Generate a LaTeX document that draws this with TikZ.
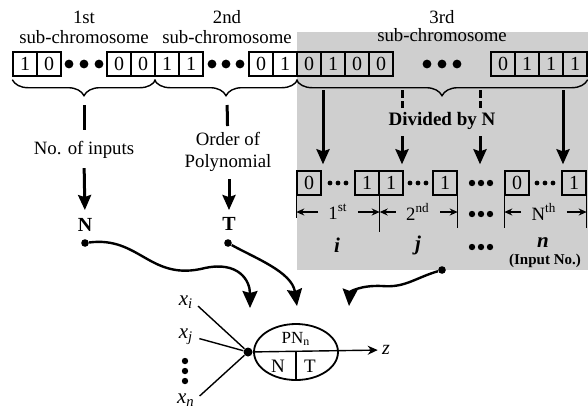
\documentclass[tikz,border=0pt]{standalone}
\usepackage{fontspec}
\setmainfont{Liberation Serif}
\usetikzlibrary{arrows.meta,positioning,calc,shapes.geometric,decorations.pathreplacing}
\usepackage{xcolor}
\definecolor{Shade}{HTML}{CFCFCF}
\tikzset{
 txt/.style={inner sep=0pt, align=center, font=\fontsize{9.4}{11}\selectfont},
 boldtxt/.style={inner sep=0pt, align=center, font=\fontsize{10}{11.5}\selectfont\bfseries},
 bit/.style={draw, line width=0.7pt, minimum width=12pt, minimum height=12pt, inner sep=0pt, font=\fontsize{10}{10}\selectfont},
 bigdot/.style={circle, fill, inner sep=0pt, minimum size=4.4pt},
 smalldot/.style={circle, fill, inner sep=0pt, minimum size=2.4pt},
 middot/.style={circle, fill, inner sep=0pt, minimum size=3.2pt},
 brace/.style={decorate, decoration={brace, mirror, amplitude=8pt}, line width=0.7pt},
 bar/.style={line width=1.5pt},
 arrow/.style={-{Stealth[length=7.5pt,width=6.5pt,inset=1pt]}, line width=1.5pt},
 curvearrow/.style={-{Stealth[length=8.5pt,width=7.5pt,inset=1pt]}, line width=1.2pt},
 dimarrow/.style={-{Stealth[length=4pt,width=3.5pt]}, line width=0.8pt},
 thinline/.style={line width=0.7pt}
}
\begin{document}
\begin{tikzpicture}[x=0.5pt,y=-0.5pt]
\useasboundingbox (0,0) rectangle (588,414);
\fill[Shade] (297,32) rectangle (588,270);

\node[txt] (h1a) at (84,17) {1st};
\node[txt] (h1b) at (84,37) {sub-chromosome};
\node[txt] (h2a) at (227,17) {2nd};
\node[txt] (h2b) at (227,37) {sub-chromosome};
\node[txt] (h3a) at (442,17) {3rd};
\node[txt] (h3b) at (442,35) {sub-chromosome};

\node[bit] (a1) at (25,64) {1};
\node[bit] (a2) at (49,64) {0};
\node[bigdot] (ad1) at (69,64) {};
\node[bigdot] (ad2) at (84,64) {};
\node[bigdot] (ad3) at (99,64) {};
\node[bit] (a3) at (119,64) {0};
\node[bit] (a4) at (143,64) {0};
\node[bit] (c1) at (167,64) {1};
\node[bit] (c2) at (191,64) {1};
\node[bigdot] (cd1) at (212,64) {};
\node[bigdot] (cd2) at (226,64) {};
\node[bigdot] (cd3) at (240,64) {};
\node[bit] (c3) at (261,64) {0};
\node[bit] (c4) at (285,64) {1};
\node[bit] (e1) at (309,64) {0};
\node[bit] (e2) at (333,64) {1};
\node[bit] (e3) at (357,64) {0};
\node[bit] (e4) at (381,64) {0};
\node[bigdot] (ed1) at (427,64) {};
\node[bigdot] (ed2) at (442,64) {};
\node[bigdot] (ed3) at (457,64) {};
\node[bit] (e5) at (503,64) {0};
\node[bit] (e6) at (527,64) {1};
\node[bit] (e7) at (551,64) {1};
\node[bit] (e8) at (575,64) {1};

\draw[brace] ([yshift=-1.5pt]a1.south west) -- ([yshift=-1.5pt]a4.south east);
\draw[brace] ([yshift=-1.5pt]c1.south west) -- ([yshift=-1.5pt]c4.south east);
\draw[brace] ([yshift=-1.5pt]e1.south west) -- ([yshift=-1.5pt]e8.south east);
\coordinate (k1) at (84,98);
\coordinate (k2) at (227,98);

\node[txt] (ni) at (84,150) {No. of inputs};
\node[txt] (op) at (228,152) {Order of\\Polynomial};
\node[boldtxt] (nN) at (85,225) {N};
\node[boldtxt] (nT) at (229,224) {T};
\draw[bar, shorten <=3.5pt, shorten >=10pt] (k1) -- (ni.center);
\draw[bar, shorten <=3.5pt, shorten >=13pt] (k2) -- (op.center);
\draw[arrow, shorten <=4.5pt, shorten >=4pt] (ni.south) -- (nN.north);
\draw[arrow, shorten <=3.5pt, shorten >=3.5pt] (op.south -| nT) -- (nT.north);
\node[middot, minimum size=3.8pt] (pN) at (85,243) {};
\node[middot, minimum size=3.8pt] (pT) at (228,243) {};

\node[bit] (r0) at (309,183) {0};
\node[smalldot] (rd1) at (330,183) {};
\node[smalldot] (rd2) at (338,183) {};
\node[smalldot] (rd3) at (346,183) {};
\node[bit] (r1) at (367,183) {1};
\node[bit] (r2) at (391,183) {1};
\node[smalldot] (rd4) at (410,183) {};
\node[smalldot] (rd5) at (418,183) {};
\node[smalldot] (rd6) at (426,183) {};
\node[bit] (r3) at (445,183) {1};
\node[middot] (rq1) at (472,183) {};
\node[middot] (rq2) at (481,183) {};
\node[middot] (rq3) at (490,183) {};
\node[bit] (r4) at (517,183) {0};
\node[smalldot] (rd7) at (537,183) {};
\node[smalldot] (rd8) at (545,183) {};
\node[smalldot] (rd9) at (553,183) {};
\node[bit] (r5) at (574,183) {1};

\coordinate (g1) at (323,90);
\coordinate (g2) at (402,90);
\coordinate (g3) at (480,90);
\coordinate (g4) at (563,90);
\node[boldtxt, font=\fontsize{9.5}{11}\selectfont\bfseries] (dv) at (442,121) {Divided by N};
\draw[arrow, shorten >=3pt] (g1) -- (g1 |- r0.north);
\draw[arrow, shorten >=3pt] (g4) -- (g4 |- r0.north);
\draw[bar, dash pattern=on 4pt off 1.5pt] (g2) -- ++(0,18);
\draw[bar, dash pattern=on 4pt off 1.5pt] (g3) -- ++(0,18);
\draw[arrow, shorten <=3pt, shorten >=3pt] (g2 |- dv.south) -- (g2 |- r0.north);
\draw[arrow, shorten <=3pt, shorten >=3pt] (g3 |- dv.south) -- (g3 |- r0.north);

\draw[thinline] (r0.south west) -- ++(0,22);
\draw[thinline] (r1.south east) -- ++(0,36);
\draw[thinline] (r3.south east) -- ++(0,32);
\draw[thinline] (r4.south west) -- ++(0,32);
\draw[thinline] (r5.south east) -- ++(0,32);
\node[txt] (m1) at (338,212) {1\textsuperscript{st}};
\node[txt] (m2) at (418,212) {2\textsuperscript{nd}};
\node[middot] (mq1) at (472,214) {};
\node[middot] (mq2) at (481,214) {};
\node[middot] (mq3) at (490,214) {};
\node[txt] (m4) at (544,212) {N\textsuperscript{th}};
\draw[dimarrow, shorten <=5pt] (m1.west) -- (m1.west -| r0.west);
\draw[dimarrow, shorten <=5pt] (m1.east) -- (m1.east -| r1.east);
\draw[dimarrow, shorten <=5pt] (m2.west) -- (m2.west -| r1.east);
\draw[dimarrow, shorten <=5pt] (m2.east) -- (m2.east -| r3.east);
\draw[dimarrow, shorten <=5pt] (m4.west) -- (m4.west -| r4.west);
\draw[dimarrow, shorten <=5pt] (m4.east) -- (m4.east -| r5.east);

\node[boldtxt, font=\fontsize{10.5}{12}\selectfont\bfseries\itshape] (vi) at (337,245) {i};
\node[boldtxt, font=\fontsize{10.5}{12}\selectfont\bfseries\itshape] (vj) at (418,245) {j};
\node[middot] (vq1) at (472,247) {};
\node[middot] (vq2) at (481,247) {};
\node[middot] (vq3) at (490,247) {};
\node[boldtxt, font=\fontsize{10.5}{12}\selectfont\bfseries\itshape] (vn) at (543,243) {n};
\node[boldtxt, font=\fontsize{7.5}{9}\selectfont\bfseries] (vin) at (545,261) {(Input No.)};
\node[middot, minimum size=3.8pt] (pI) at (442,270) {};

\node[circle, fill, inner sep=0pt, minimum size=4.5pt] (jn) at (248,352) {};
\node[draw, ellipse, line width=0.9pt, minimum width=42pt, minimum height=28pt, inner sep=0pt] (pn) at (296,352) {};
\node[txt, font=\fontsize{8.5}{10}\selectfont] (pnl) at (296,339) {PN\textsubscript{n}};
\node[txt, font=\fontsize{9.5}{11}\selectfont] (pnN) at (278,366) {N};
\node[txt, font=\fontsize{9.5}{11}\selectfont] (pnT) at (310,366) {T};
\draw[thinline] (pn.center) -- (pn.south);
\node[txt, font=\fontsize{10}{11.5}\selectfont\itshape] (zz) at (386,350) {z};
\draw[thinline, -{Stealth[length=5pt,width=4.5pt]}, shorten >=2pt] (jn) -- (zz.west);

\node[txt, font=\fontsize{10.5}{12}\selectfont\itshape] (xi) at (186,302) {x\textsubscript{i}};
\node[txt, font=\fontsize{10.5}{12}\selectfont\itshape] (xj) at (186,337) {x\textsubscript{j}};
\node[txt, font=\fontsize{10.5}{12}\selectfont\itshape] (xn) at (186,400) {x\textsubscript{n}};
\node[middot] (xd1) at (185,361) {};
\node[middot] (xd2) at (185,371) {};
\node[middot] (xd3) at (185,381) {};
\draw[thinline, shorten <=3pt] (xi.east) -- (jn);
\draw[thinline, shorten <=3pt] (xj.east) -- (jn);
\draw[thinline, shorten <=3pt] (xn.east) -- (jn);

\coordinate (tN) at (250,308);
\coordinate (tT) at (297,306);
\coordinate (tI) at (349,306);
\draw[curvearrow] (pN) .. controls (140,236) and (150,282) .. (205,268) .. controls (238,261) and (250,280) .. (tN);
\draw[curvearrow] (pT) .. controls (255,258) and (292,272) .. (tT);
\draw[curvearrow] (pI) .. controls (415,278) and (405,288) .. (382,286) .. controls (360,285) and (350,292) .. (tI);
\end{tikzpicture}
\end{document}
